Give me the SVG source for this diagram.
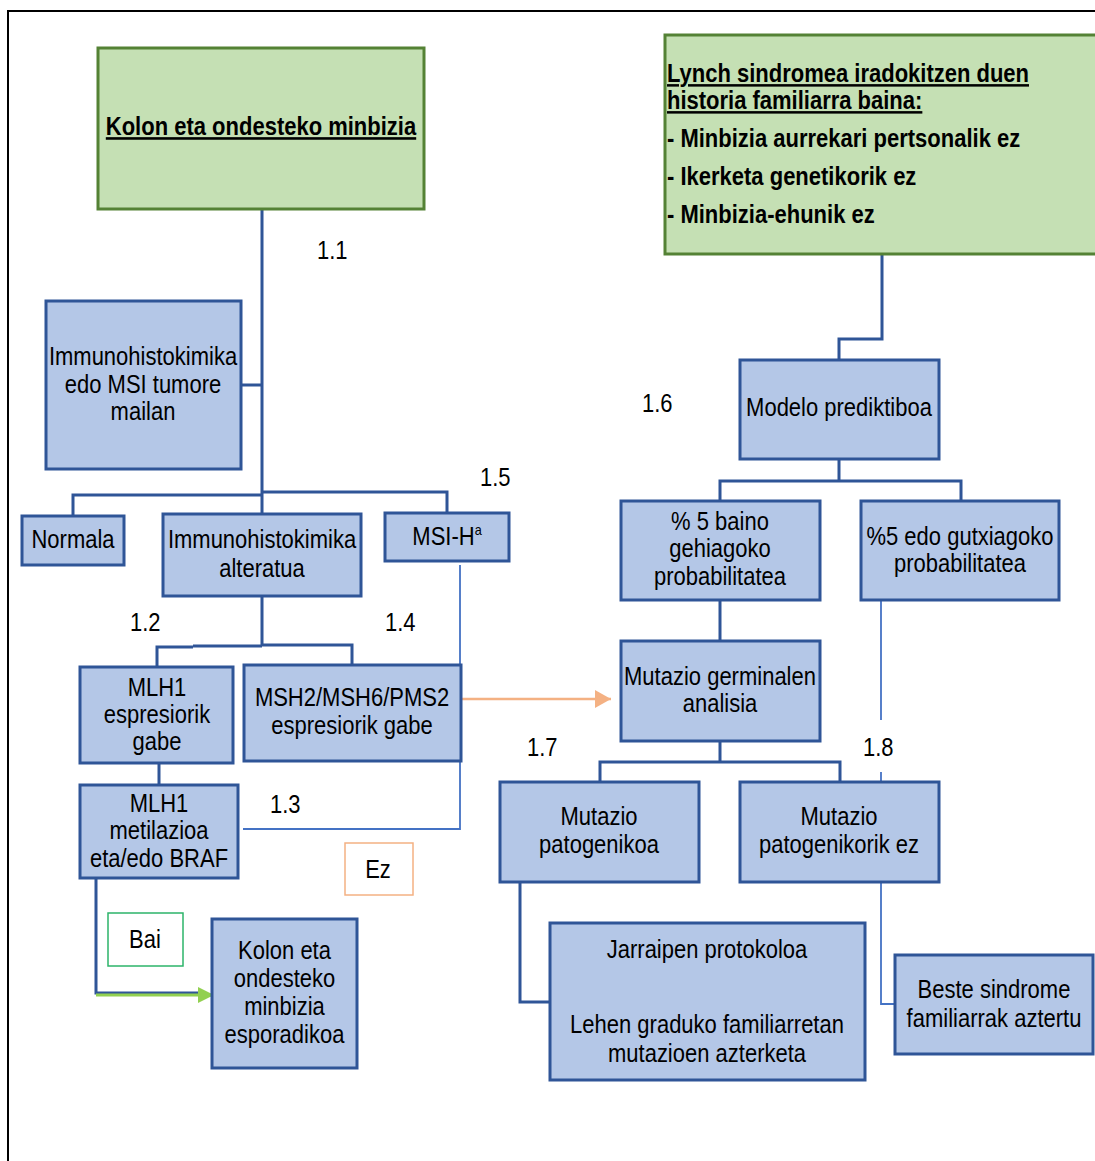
<svg xmlns="http://www.w3.org/2000/svg" width="1095" height="1161" viewBox="0 0 1095 1161">
<style>
text{font-family:"Liberation Sans",Arial,sans-serif;font-size:26px;fill:#000}
.c{text-anchor:middle}
.b{font-weight:bold}
.u{text-decoration:underline}
.s{font-size:25px}
.box{fill:#B4C7E7;stroke:#2F5597;stroke-width:3}
.gbox{fill:#C5E0B4;stroke:#548235;stroke-width:3}
.ln{fill:none;stroke:#2F5597;stroke-width:3}
.tn{fill:none;stroke:#4472C4;stroke-width:1.8}
</style>
<defs>
<marker id="ao" markerUnits="userSpaceOnUse" markerWidth="16" markerHeight="18" refX="16" refY="9" orient="auto"><path d="M0,0 L16,9 L0,18 Z" fill="#F4B183"/></marker>
<marker id="ag" markerUnits="userSpaceOnUse" markerWidth="16" markerHeight="16" refX="16" refY="8" orient="auto"><path d="M0,0 L16,8 L0,16 Z" fill="#92D050"/></marker>
</defs>
<rect width="1095" height="1161" fill="#fff"/>
<path d="M8,1161 V11 H1095" fill="none" stroke="#000" stroke-width="2"/>

<g id="connectors">
<path class="ln" d="M262,209 V514"/>
<path class="ln" d="M241,385 H262"/>
<path class="ln" d="M73,516 V495 H262"/>
<path class="ln" d="M262,492 H447 V513"/>
<path class="ln" d="M262,596 V645 H352 V665"/>
<path class="ln" d="M262,646 H193"/>
<path class="ln" stroke-width="2" d="M193,647 H157 V667"/>
<path class="ln" d="M159,763 V785"/>
<path class="tn" d="M460,565 V829 H243"/>
<path fill="none" stroke="#F4B183" stroke-width="2.5" d="M461,699 H611" marker-end="url(#ao)"/>
<path class="ln" stroke-width="2.5" d="M96,878 V993 H200"/>
<path fill="none" stroke="#92D050" stroke-width="3" d="M96,995 H214" marker-end="url(#ag)"/>
<path class="ln" stroke-width="2.5" d="M882,254 V339 H839 V360"/>
<path class="ln" stroke-width="2.5" d="M839,459 V482"/>
<path class="ln" stroke-width="2.5" d="M720,501 V481 H961 V501"/>
<path class="ln" d="M720,600 V641"/>
<path class="tn" stroke-width="2.5" d="M881,600 V720"/>
<path class="tn" stroke-width="2.5" d="M881,772 V782"/>
<path class="ln" d="M720,741 V762"/>
<path class="ln" stroke-width="2.5" d="M600,782 V762 H840 V782"/>
<path class="ln" stroke-width="2.5" d="M520,882 V1002 H550"/>
<path class="tn" stroke-width="2.5" d="M881,882 V1004 H896"/>
</g>

<g id="n-kolon">
<rect class="gbox" x="98" y="48" width="326" height="161"/>
<text class="c b u" transform="translate(261,0) scale(0.846,1)" x="0" y="135">Kolon eta ondesteko minbizia</text>
</g>

<g id="n-lynch">
<rect class="gbox" x="665" y="35" width="440" height="219"/>
<text class="b s" transform="translate(667,0) scale(0.88,1)"><tspan class="u" x="0" y="82">Lynch sindromea iradokitzen duen</tspan><tspan class="u" x="0" y="109">historia familiarra baina:</tspan></text>
<text class="b" transform="translate(667,0) scale(0.846,1)"><tspan x="0" y="147">- Minbizia aurrekari pertsonalik ez</tspan><tspan x="0" y="185">- Ikerketa genetikorik ez</tspan><tspan x="0" y="223">- Minbizia-ehunik ez</tspan></text>
</g>

<g id="n-imm-msi">
<rect class="box" x="46" y="301" width="195" height="168"/>
<text class="c" transform="translate(143,0) scale(0.846,1)"><tspan x="0" y="365">Immunohistokimika</tspan><tspan x="0" y="393">edo MSI tumore</tspan><tspan x="0" y="420">mailan</tspan></text>
</g>

<g id="n-normala">
<rect class="box" x="22" y="516" width="102" height="49"/>
<text class="c" transform="translate(73,0) scale(0.846,1)" x="0" y="548">Normala</text>
</g>

<g id="n-imm-alt">
<rect class="box" x="163" y="514" width="198" height="82"/>
<text class="c" transform="translate(262,0) scale(0.846,1)"><tspan x="0" y="548">Immunohistokimika</tspan><tspan x="0" y="577">alteratua</tspan></text>
</g>

<g id="n-msih">
<rect class="box" x="385" y="513" width="124" height="48"/>
<text class="c" transform="translate(447,0) scale(0.846,1)" x="0" y="545">MSI-H<tspan font-size="15" dy="-10">a</tspan></text>
</g>

<g id="n-mlh1">
<rect class="box" x="80" y="667" width="153" height="96"/>
<text class="c" transform="translate(157,0) scale(0.846,1)"><tspan x="0" y="696">MLH1</tspan><tspan x="0" y="723">espresiorik</tspan><tspan x="0" y="750">gabe</tspan></text>
</g>

<g id="n-msh2">
<rect class="box" x="244" y="665" width="217" height="96"/>
<text class="c s" transform="translate(352,0) scale(0.88,1)"><tspan x="0" y="706">MSH2/MSH6/PMS2</tspan><tspan x="0" y="734">espresiorik gabe</tspan></text>
</g>

<g id="n-mlh1met">
<rect class="box" x="80" y="785" width="158" height="93"/>
<text class="c" transform="translate(159,0) scale(0.846,1)"><tspan x="0" y="812">MLH1</tspan><tspan x="0" y="839">metilazioa</tspan><tspan x="0" y="867">eta/edo BRAF</tspan></text>
</g>

<g id="n-ez">
<rect x="345" y="843" width="68" height="52" fill="#fff" stroke="#F4B183" stroke-width="1.5"/>
<text class="c" transform="translate(378,0) scale(0.846,1)" x="0" y="878">Ez</text>
</g>

<g id="n-bai">
<rect x="108" y="913" width="75" height="53" fill="#fff" stroke="#2DB46A" stroke-width="1.5"/>
<text class="c" transform="translate(145,0) scale(0.846,1)" x="0" y="948">Bai</text>
</g>

<g id="n-esporadikoa">
<rect class="box" x="212" y="919" width="145" height="149"/>
<text class="c" transform="translate(284.5,0) scale(0.846,1)"><tspan x="0" y="959">Kolon eta</tspan><tspan x="0" y="987">ondesteko</tspan><tspan x="0" y="1015">minbizia</tspan><tspan x="0" y="1043">esporadikoa</tspan></text>
</g>

<g id="n-modelo">
<rect class="box" x="740" y="360" width="199" height="99"/>
<text class="c" transform="translate(839,0) scale(0.846,1)" x="0" y="416">Modelo prediktiboa</text>
</g>

<g id="n-gt5">
<rect class="box" x="621" y="501" width="199" height="99"/>
<text class="c" transform="translate(720,0) scale(0.846,1)"><tspan x="0" y="530">% 5 baino</tspan><tspan x="0" y="557">gehiagoko</tspan><tspan x="0" y="585">probabilitatea</tspan></text>
</g>

<g id="n-le5">
<rect class="box" x="861" y="501" width="198" height="99"/>
<text class="c" transform="translate(960,0) scale(0.846,1)"><tspan x="0" y="545">%5 edo gutxiagoko</tspan><tspan x="0" y="572">probabilitatea</tspan></text>
</g>

<g id="n-germinal">
<rect class="box" x="621" y="641" width="199" height="100"/>
<text class="c" transform="translate(720,0) scale(0.846,1)"><tspan x="0" y="685">Mutazio germinalen</tspan><tspan x="0" y="712">analisia</tspan></text>
</g>

<g id="n-patog">
<rect class="box" x="500" y="782" width="199" height="100"/>
<text class="c" transform="translate(599,0) scale(0.846,1)"><tspan x="0" y="825">Mutazio</tspan><tspan x="0" y="853">patogenikoa</tspan></text>
</g>

<g id="n-nopatog">
<rect class="box" x="740" y="782" width="199" height="100"/>
<text class="c" transform="translate(839,0) scale(0.846,1)"><tspan x="0" y="825">Mutazio</tspan><tspan x="0" y="853">patogenikorik ez</tspan></text>
</g>

<g id="n-jarraipen">
<rect class="box" x="550" y="923" width="315" height="157"/>
<text class="c" transform="translate(707,0) scale(0.846,1)"><tspan x="0" y="958">Jarraipen protokoloa</tspan><tspan x="0" y="1033">Lehen graduko familiarretan</tspan><tspan x="0" y="1062">mutazioen azterketa</tspan></text>
</g>

<g id="n-beste">
<rect class="box" x="895" y="955" width="198" height="99"/>
<text class="c" transform="translate(994,0) scale(0.846,1)"><tspan x="0" y="998">Beste sindrome</tspan><tspan x="0" y="1027">familiarrak aztertu</tspan></text>
</g>

<g id="labels">
<text transform="translate(317,0) scale(0.846,1)" x="0" y="259">1.1</text>
<text transform="translate(130,0) scale(0.846,1)" x="0" y="631">1.2</text>
<text transform="translate(270,0) scale(0.846,1)" x="0" y="813">1.3</text>
<text transform="translate(385,0) scale(0.846,1)" x="0" y="631">1.4</text>
<text transform="translate(480,0) scale(0.846,1)" x="0" y="486">1.5</text>
<text transform="translate(642,0) scale(0.846,1)" x="0" y="412">1.6</text>
<text transform="translate(527,0) scale(0.846,1)" x="0" y="756">1.7</text>
<text transform="translate(863,0) scale(0.846,1)" x="0" y="756">1.8</text>
</g>
</svg>
